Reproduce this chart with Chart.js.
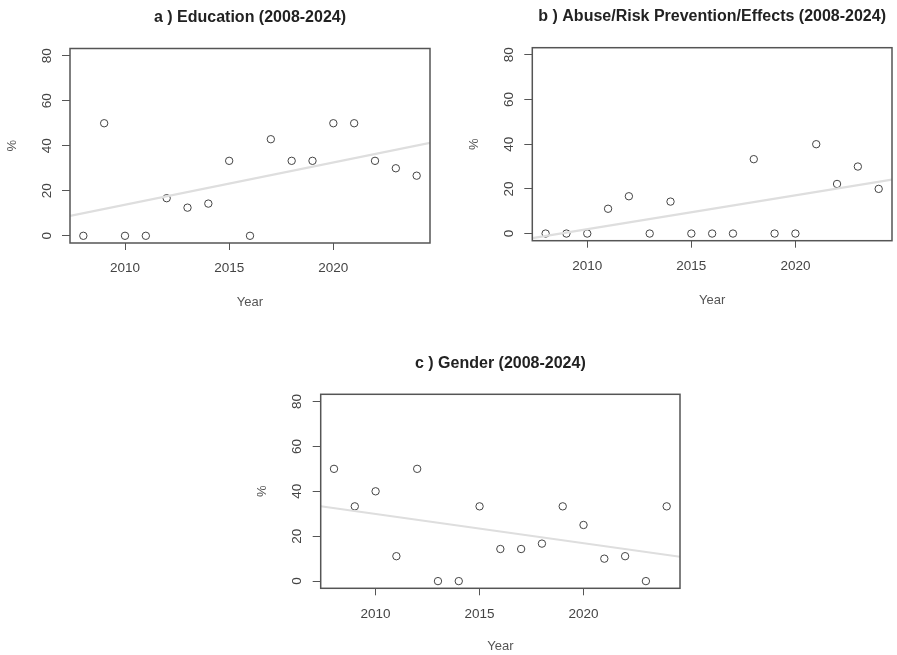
<!DOCTYPE html>
<html>
<head>
<meta charset="utf-8">
<script src="https://cdn.jsdelivr.net/npm/chart.js@4.4.1/dist/chart.umd.min.js"></script>
<style>
  body { margin: 0; background: #fff; }
  #wrap { position: relative; width: 897px; height: 655px; overflow: hidden; }
  canvas { position: absolute; }
</style>
</head>
<body>
<div id="wrap">
  <canvas id="chartA"></canvas>
  <canvas id="chartB"></canvas>
  <canvas id="chartC"></canvas>
</div>
<script>
// data (% per year)
const years = [2008, 2009, 2010, 2011, 2012, 2013, 2014, 2015, 2016, 2017, 2018, 2019, 2020, 2021, 2022, 2023, 2024];
const education = [0, 50, 0, 0, 16.7, 12.5, 14.3, 33.3, 0, 42.9, 33.3, 33.3, 50, 50, 33.3, 30, 26.7];
const abuse = [0, 0, 0, 11.1, 16.7, 0, 14.3, 0, 0, 0, 33.3, 0, 0, 40, 22.2, 30, 20];
const gender = [50, 33.3, 40, 11.1, 50, 0, 0, 33.3, 14.3, 14.3, 16.7, 33.3, 25, 10, 11.1, 0, 33.3];
const xTicks = [2010, 2015, 2020];
const yTicks = [0, 20, 40, 60, 80];
const yLimits = [0, 80];

const FONT = "'Liberation Sans', Arial, sans-serif";

// R style axis limits: data range widened by 4% each side
function rRange(lo, hi) {
    const d = (hi - lo) * 0.04;
    return [lo - d, hi + d];
}

// least squares fit, like abline(lm(y ~ x))
function fitLine(xs, ys) {
    const n = xs.length;
    const mx = xs.reduce((a, b) => a + b, 0) / n;
    const my = ys.reduce((a, b) => a + b, 0) / n;
    let sxy = 0, sxx = 0;
    for (let i = 0; i < n; i++) {
        sxy += (xs[i] - mx) * (ys[i] - my);
        sxx += (xs[i] - mx) * (xs[i] - mx);
    }
    const slope = sxy / sxx;
    return x => my + slope * (x - mx);
}

const boxPlugin = {
    id: 'box',
    afterDraw(chart) {
        const a = chart.chartArea;
        const ctx = chart.ctx;
        ctx.save();
        ctx.strokeStyle = '#555';
        ctx.lineWidth = 1.5;
        ctx.strokeRect(a.left, a.top, a.right - a.left, a.bottom - a.top);
        ctx.restore();
    }
};

function makePanel(id, pos, title, values) {
    const canvas = document.getElementById(id);
    canvas.width = pos.w;
    canvas.height = pos.h;
    canvas.style.left = pos.left + 'px';
    canvas.style.top = pos.top + 'px';
    canvas.style.width = pos.w + 'px';
    canvas.style.height = pos.h + 'px';

    const xr = rRange(years[0], years[years.length - 1]);
    const yr = rRange(yLimits[0], yLimits[1]);
    const f = fitLine(years, values);

    new Chart(canvas.getContext('2d'), {
        type: 'scatter',
        data: {
            datasets: [{
                type: 'line',
                data: [{ x: xr[0], y: f(xr[0]) }, { x: xr[1], y: f(xr[1]) }],
                borderColor: '#dedede',
                borderWidth: 2.2,
                pointRadius: 0,
                fill: false,
                order: 0
            }, {
                data: years.map((y, i) => ({ x: y, y: values[i] })),
                pointStyle: 'circle',
                pointRadius: 3.7,
                pointBorderWidth: 1,
                pointBorderColor: '#444',
                pointBackgroundColor: 'rgba(0,0,0,0)',
                order: 1
            }]
        },
        options: {
            responsive: false,
            animation: false,
            devicePixelRatio: 1,
            layout: { padding: { left: 0, right: pos.padRight, top: 0, bottom: 0 } },
            plugins: {
                legend: { display: false },
                tooltip: { enabled: false },
                title: {
                    display: true,
                    text: title,
                    fullSize: false,
                    color: '#222',
                    font: { family: FONT, size: 16, weight: 'bold' },
                    padding: pos.titlePad
                }
            },
            scales: {
                x: {
                    type: 'linear',
                    min: xr[0],
                    max: xr[1],
                    afterBuildTicks: s => { s.ticks = xTicks.map(v => ({ value: v })); },
                    afterFit: s => { s.height = pos.xAxisH; },
                    grid: { display: true, drawOnChartArea: false, drawTicks: true, tickLength: 7, color: '#555', lineWidth: 1 },
                    border: { display: false },
                    ticks: { color: '#444', font: { family: FONT, size: 13.5 }, padding: 10.5, maxRotation: 0, callback: v => String(v) },
                    title: { display: true, text: 'Year', color: '#555', font: { family: FONT, size: 13 }, padding: { top: 0, bottom: pos.yearPad } }
                },
                y: {
                    type: 'linear',
                    min: yr[0],
                    max: yr[1],
                    afterBuildTicks: s => { s.ticks = yTicks.map(v => ({ value: v })); },
                    afterFit: s => { s.width = pos.yAxisW; },
                    grid: { display: true, drawOnChartArea: false, drawTicks: true, tickLength: 8, color: '#555', lineWidth: 1 },
                    border: { display: false },
                    ticks: { color: '#444', font: { family: FONT, size: 13.5 }, padding: 7.5, minRotation: 90, maxRotation: 90, crossAlign: 'center', callback: v => String(v) },
                    title: { display: true, text: '%', color: '#555', font: { family: FONT, size: 13 }, padding: { top: 4.2, bottom: 0 } }
                }
            }
        },
        plugins: [boxPlugin]
    });
}

makePanel('chartA', { left: 0, top: 0, w: 448, h: 325, padRight: 18, yAxisW: 70, xAxisH: 82, titlePad: { top: 8.2, bottom: 21.1 }, yearPad: 15.2 },
    'a ) Education (2008-2024)', education);
makePanel('chartB', { left: 462, top: 0, w: 435, h: 325, padRight: 4.3, yAxisW: 70.3, xAxisH: 84.3, titlePad: { top: 7.2, bottom: 21.3 }, yearPad: 17.2 },
    'b ) Abuse/Risk Prevention/Effects (2008-2024)', abuse);
makePanel('chartC', { left: 250, top: 340, w: 440, h: 315, padRight: 10, yAxisW: 70.7, xAxisH: 66.7, titlePad: { top: 13.6, bottom: 21.5 }, yearPad: 1.2 },
    'c ) Gender (2008-2024)', gender);
</script>
</body>
</html>
